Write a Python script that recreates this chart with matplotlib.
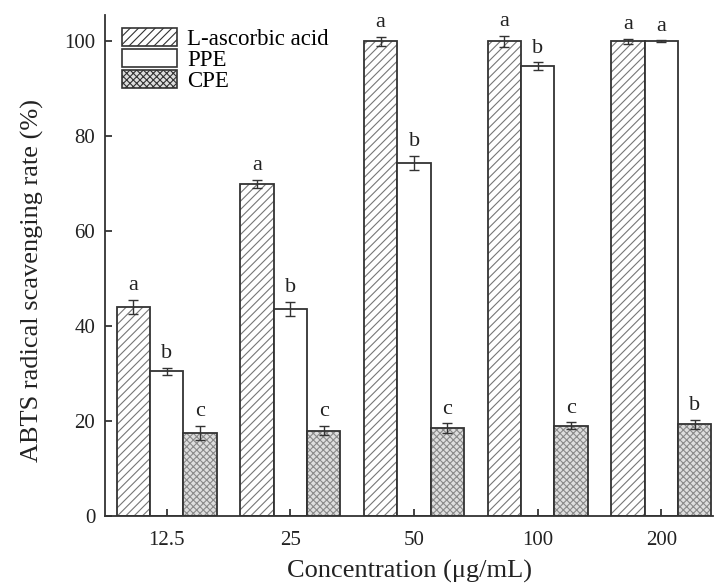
import numpy as np
import matplotlib
matplotlib.use('Agg')
import matplotlib.pyplot as plt
from matplotlib.patches import Patch

plt.rcParams['font.family'] = ['Liberation Serif', 'DejaVu Serif']
plt.rcParams['hatch.linewidth'] = 0.8

# concentrations (ug/mL)
conc = ['12.5', '25', '50', '100', '200']

# ABTS scavenging rate (%) and standard deviations
asc = [44.0, 70.0, 100.0, 100.0, 100.0]
asc_err = [1.5, 0.8, 1.0, 1.2, 0.5]
ppe = [30.5, 43.6, 74.3, 94.8, 100.0]
ppe_err = [0.7, 1.5, 1.5, 0.8, 0.2]
cpe = [17.5, 18.0, 18.5, 19.0, 19.3]
cpe_err = [1.5, 1.0, 1.0, 0.7, 1.0]

# significance letters
asc_sig = ['a', 'a', 'a', 'a', 'a']
ppe_sig = ['b', 'b', 'b', 'b', 'a']
cpe_sig = ['c', 'c', 'c', 'c', 'b']

x = np.arange(len(conc))
w = 0.27

fig = plt.figure(figsize=(7.14, 5.87), dpi=100)
ax = fig.add_axes([0.147, 0.121, 0.852, 0.853])

series = [
    (asc, asc_err, asc_sig, 'L-ascorbic acid', 'white', '////', '#777777'),
    (ppe, ppe_err, ppe_sig, 'PPE', 'white', '', 'black'),
    (cpe, cpe_err, cpe_sig, 'CPE', '#dedede', 'xxxxx', '#8a8a8a'),
]

for i, (vals, errs, sig, name, fc, hatch, hc) in enumerate(series):
    pos = x + (i - 1) * w
    # hatch drawn in its own colour, outline drawn separately in black
    ax.bar(pos, vals, w, color=fc, hatch=hatch, edgecolor=hc, linewidth=0)
    ax.bar(pos, vals, w, fill=False, edgecolor='#333333', linewidth=1.3)
    ax.errorbar(pos, vals, yerr=errs, fmt='none', ecolor='#333333', elinewidth=1, capsize=3.5, capthick=1)
    for p, v, e, s in zip(pos, vals, errs, sig):
        ax.text(p, v + e + 1.0, s, ha='center', va='bottom', fontsize=16, color='#222222')

# legend proxies
handles = [Patch(facecolor=fc, hatch=hatch, edgecolor='#333333', linewidth=1.2, label=name)
           for (_, _, _, name, fc, hatch, hc) in series]
ax.legend(handles=handles, loc='upper left', bbox_to_anchor=(0.028, 0.975), frameon=False,
          fontsize=16.5, handlelength=2.4, handleheight=0.85, labelspacing=-0.05,
          handletextpad=0.45, borderaxespad=0, borderpad=0)

ax.set_xlim(-0.5, 4.42)
ax.set_ylim(0, 105.5)
ax.set_xticks(x)
ax.set_xticklabels(conc)
ax.set_yticks([0, 20, 40, 60, 80, 100])
ax.tick_params(direction='in', length=5, width=1.2, labelsize=15, colors='#222222')
ax.tick_params(axis='x', pad=11)
ax.tick_params(axis='y', pad=7)
for s in ['top', 'right']:
    ax.spines[s].set_visible(False)
for s in ['left', 'bottom']:
    ax.spines[s].set_linewidth(1.3)
    ax.spines[s].set_color('#333333')

ax.set_xlabel('Concentration (μg/mL)', fontsize=19, color='#222222', labelpad=7)
ax.set_ylabel('ABTS radical scavenging rate (%)', fontsize=19, color='#222222')
ax.yaxis.set_label_coords(-0.1, 0.47)

fig.savefig('out.png', dpi=100)
